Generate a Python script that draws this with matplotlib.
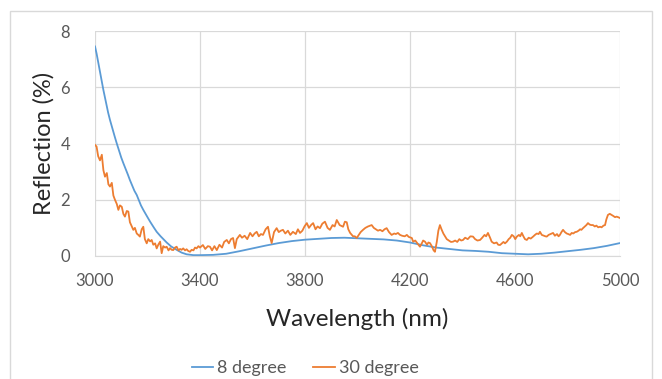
import matplotlib.pyplot as plt
from matplotlib.patches import Rectangle

plt.rcParams['font.family'] = ['Lato', 'DejaVu Sans']

# 8 degree (smooth curve)
wl_8 = [3000, 3006, 3025, 3032, 3050, 3057, 3075, 3083, 3100, 3108, 3125, 3133, 3150, 3159,
        3175, 3184, 3200, 3210, 3225, 3235, 3250, 3273, 3290, 3311, 3330, 3349, 3375, 3400,
        3450, 3500, 3550, 3600, 3650, 3700, 3750, 3800, 3850, 3900, 3950, 4000, 4050, 4100,
        4150, 4200, 4250, 4300, 4350, 4400, 4450, 4500, 4550, 4600, 4650, 4700, 4750, 4800,
        4850, 4900, 4950, 5000]
refl_8 = [7.45, 7.2, 6.25, 5.9, 5.1, 4.84, 4.25, 4.0, 3.5, 3.3, 2.9, 2.7, 2.32, 2.17,
          1.8, 1.64, 1.38, 1.22, 1.0, 0.86, 0.7, 0.48, 0.34, 0.22, 0.12, 0.06, 0.03, 0.03,
          0.04, 0.08, 0.17, 0.27, 0.37, 0.46, 0.53, 0.58, 0.61, 0.64, 0.65, 0.63, 0.61, 0.59,
          0.55, 0.48, 0.38, 0.3, 0.25, 0.2, 0.18, 0.15, 0.1, 0.08, 0.06, 0.08, 0.12, 0.17,
          0.22, 0.28, 0.36, 0.46]

# 30 degree (noisy curve)
wl_30 = [3000, 3006, 3012, 3019, 3026, 3032, 3038, 3045, 3051, 3057, 3064, 3070, 3076, 3083,
         3089, 3095, 3102, 3108, 3114, 3121, 3127, 3133, 3140, 3146, 3152, 3159, 3165, 3171,
         3178, 3184, 3190, 3197, 3203, 3210, 3216, 3222, 3229, 3235, 3241, 3248, 3254, 3260,
         3267, 3273, 3280, 3286, 3292, 3298, 3305, 3311, 3318, 3324, 3330, 3336, 3343, 3349,
         3355, 3362, 3368, 3375, 3381, 3387, 3394, 3400, 3411, 3420, 3430, 3438, 3446, 3455,
         3464, 3474, 3484, 3492, 3502, 3510, 3518, 3526, 3533, 3540, 3552, 3560, 3570, 3580,
         3591, 3600, 3608, 3616, 3624, 3632, 3640, 3650, 3659, 3666, 3673, 3682, 3692, 3700,
         3708, 3716, 3725, 3735, 3744, 3754, 3765, 3773, 3781, 3790, 3798, 3807, 3815, 3823,
         3831, 3840, 3848, 3857, 3866, 3876, 3886, 3895, 3905, 3913, 3921, 3932, 3945, 3952,
         3959, 3965, 3972, 3983, 3990, 3997, 4005, 4012, 4021, 4030, 4040, 4054, 4062, 4070,
         4078, 4086, 4095, 4103, 4111, 4120, 4130, 4140, 4146, 4154, 4162, 4170, 4180, 4188,
         4195, 4207, 4212, 4220, 4228, 4238, 4245, 4250, 4257, 4265, 4270, 4276, 4283, 4290,
         4295, 4302, 4308, 4314, 4320, 4327, 4334, 4340, 4348, 4356, 4364, 4372, 4380, 4388,
         4395, 4402, 4410, 4420, 4430, 4440, 4448, 4457, 4467, 4475, 4484, 4490, 4497, 4505,
         4511, 4520, 4530, 4536, 4543, 4550, 4556, 4562, 4569, 4576, 4582, 4588, 4595, 4601,
         4607, 4615, 4620, 4626, 4632, 4638, 4645, 4652, 4660, 4669, 4676, 4683, 4690, 4695,
         4702, 4710, 4716, 4721, 4728, 4735, 4740, 4745, 4752, 4760, 4766, 4771, 4777, 4783,
         4790, 4797, 4803, 4810, 4816, 4822, 4829, 4835, 4842, 4848, 4853, 4859, 4866, 4872,
         4878, 4884, 4890, 4897, 4904, 4910, 4917, 4924, 4930, 4937, 4943, 4948, 4954, 4961,
         4968, 4975, 4981, 4987, 4993, 5000]
refl_30 = [3.95, 3.89, 3.55, 3.4, 3.6, 3.05, 2.82, 2.95, 2.55, 2.47, 2.6, 2.15, 2.0, 1.85,
           1.64, 1.8, 1.75, 1.5, 1.4, 1.6, 1.58, 1.2, 1.05, 0.93, 1.0, 0.8, 0.75, 0.69,
           0.95, 1.04, 0.6, 0.45, 0.6, 0.52, 0.57, 0.4, 0.45, 0.27, 0.4, 0.51, 0.1, 0.35,
           0.3, 0.33, 0.2, 0.28, 0.22, 0.21, 0.3, 0.33, 0.2, 0.25, 0.22, 0.27, 0.2, 0.24,
           0.18, 0.15, 0.22, 0.2, 0.3, 0.27, 0.35, 0.3, 0.39, 0.25, 0.35, 0.33, 0.2, 0.35,
           0.21, 0.4, 0.3, 0.5, 0.57, 0.45, 0.6, 0.64, 0.28, 0.6, 0.75, 0.65, 0.72, 0.6,
           0.82, 0.7, 0.8, 0.86, 0.7, 0.78, 0.75, 0.95, 1.04, 0.7, 0.46, 0.85, 0.99, 0.85,
           0.9, 0.93, 0.8, 0.9, 0.75, 0.86, 0.78, 0.95, 0.82, 0.9, 1.05, 1.17, 1.0, 1.1,
           1.17, 0.95, 1.05, 0.99, 1.15, 1.22, 1.0, 0.93, 1.1, 1.05, 1.28, 1.1, 1.04, 1.22,
           1.2, 0.95, 0.82, 0.7, 0.7, 0.64, 0.75, 0.85, 0.93, 1.0, 1.05, 1.1, 1.0, 0.95,
           0.9, 0.93, 0.88, 0.95, 0.99, 0.85, 0.75, 0.8, 0.78, 0.82, 0.75, 0.72, 0.7, 0.75,
           0.68, 0.64, 0.51, 0.55, 0.45, 0.33, 0.45, 0.55, 0.51, 0.4, 0.48, 0.46, 0.35, 0.2,
           0.15, 0.5, 0.9, 1.1, 0.95, 0.8, 0.69, 0.6, 0.55, 0.5, 0.51, 0.55, 0.5, 0.6,
           0.55, 0.57, 0.65, 0.6, 0.7, 0.69, 0.6, 0.55, 0.57, 0.65, 0.75, 0.7, 0.82, 0.65,
           0.51, 0.45, 0.48, 0.4, 0.39, 0.45, 0.5, 0.45, 0.51, 0.6, 0.65, 0.75, 0.7, 0.6,
           0.69, 0.75, 0.7, 0.82, 0.7, 0.6, 0.57, 0.65, 0.62, 0.69, 0.75, 0.8, 0.78, 0.86,
           0.75, 0.72, 0.7, 0.69, 0.75, 0.78, 0.8, 0.82, 0.72, 0.78, 0.7, 0.75, 0.85, 0.93,
           0.85, 0.8, 0.78, 0.75, 0.82, 0.8, 0.85, 0.86, 0.9, 0.95, 0.93, 0.99, 1.05, 1.1,
           1.17, 1.12, 1.1, 1.1, 1.05, 1.08, 1.02, 1.04, 1.02, 1.08, 1.1, 1.3, 1.46, 1.5,
           1.46, 1.42, 1.38, 1.4, 1.38, 1.35]

x_ticks = [3000, 3400, 3800, 4200, 4600, 5000]
y_ticks = [0, 2, 4, 6, 8]

fig = plt.figure(figsize=(6.62, 3.79), dpi=100)
ax = fig.add_axes([95 / 662, 1 - 256 / 379, 525 / 662, 225 / 379])

# light frame around the whole chart (Excel chart area)
fig.patches.append(Rectangle((10 / 662, -0.05), 642 / 662, 1.05 - 11 / 379,
                             transform=fig.transFigure, fill=False,
                             edgecolor='#d9d9d9', linewidth=1))

ax.plot(wl_8, refl_8, color='#5b9bd5', lw=1.3, label='8 degree')
ax.plot(wl_30, refl_30, color='#ed7d31', lw=1.3, label='30 degree')

ax.set_xlim(3000, 5000)
ax.set_ylim(0, 8)
ax.set_xticks(x_ticks)
ax.set_yticks(y_ticks)
ax.grid(color='#d9d9d9', linewidth=0.9)
ax.set_axisbelow(True)
for s in ['top', 'right', 'left']:
    ax.spines[s].set_visible(False)
ax.spines['bottom'].set_color('#d9d9d9')
ax.tick_params(axis='x', length=0, labelsize=12, labelcolor='#595959', pad=12)
ax.tick_params(axis='y', length=0, labelsize=12, labelcolor='#595959', pad=18)

ax.set_xlabel('Wavelength (nm)', fontsize=17.5, color='#262626', labelpad=14)
ax.set_ylabel('Reflection (%)', fontsize=17, color='#262626', labelpad=4)

ax.legend(loc='center', bbox_to_anchor=(0.4, -0.5), ncol=2, frameon=False,
          fontsize=13, labelcolor='#595959', handlelength=1.2, handletextpad=0.2,
          columnspacing=1.5)

fig.savefig('out.png', dpi=100)
